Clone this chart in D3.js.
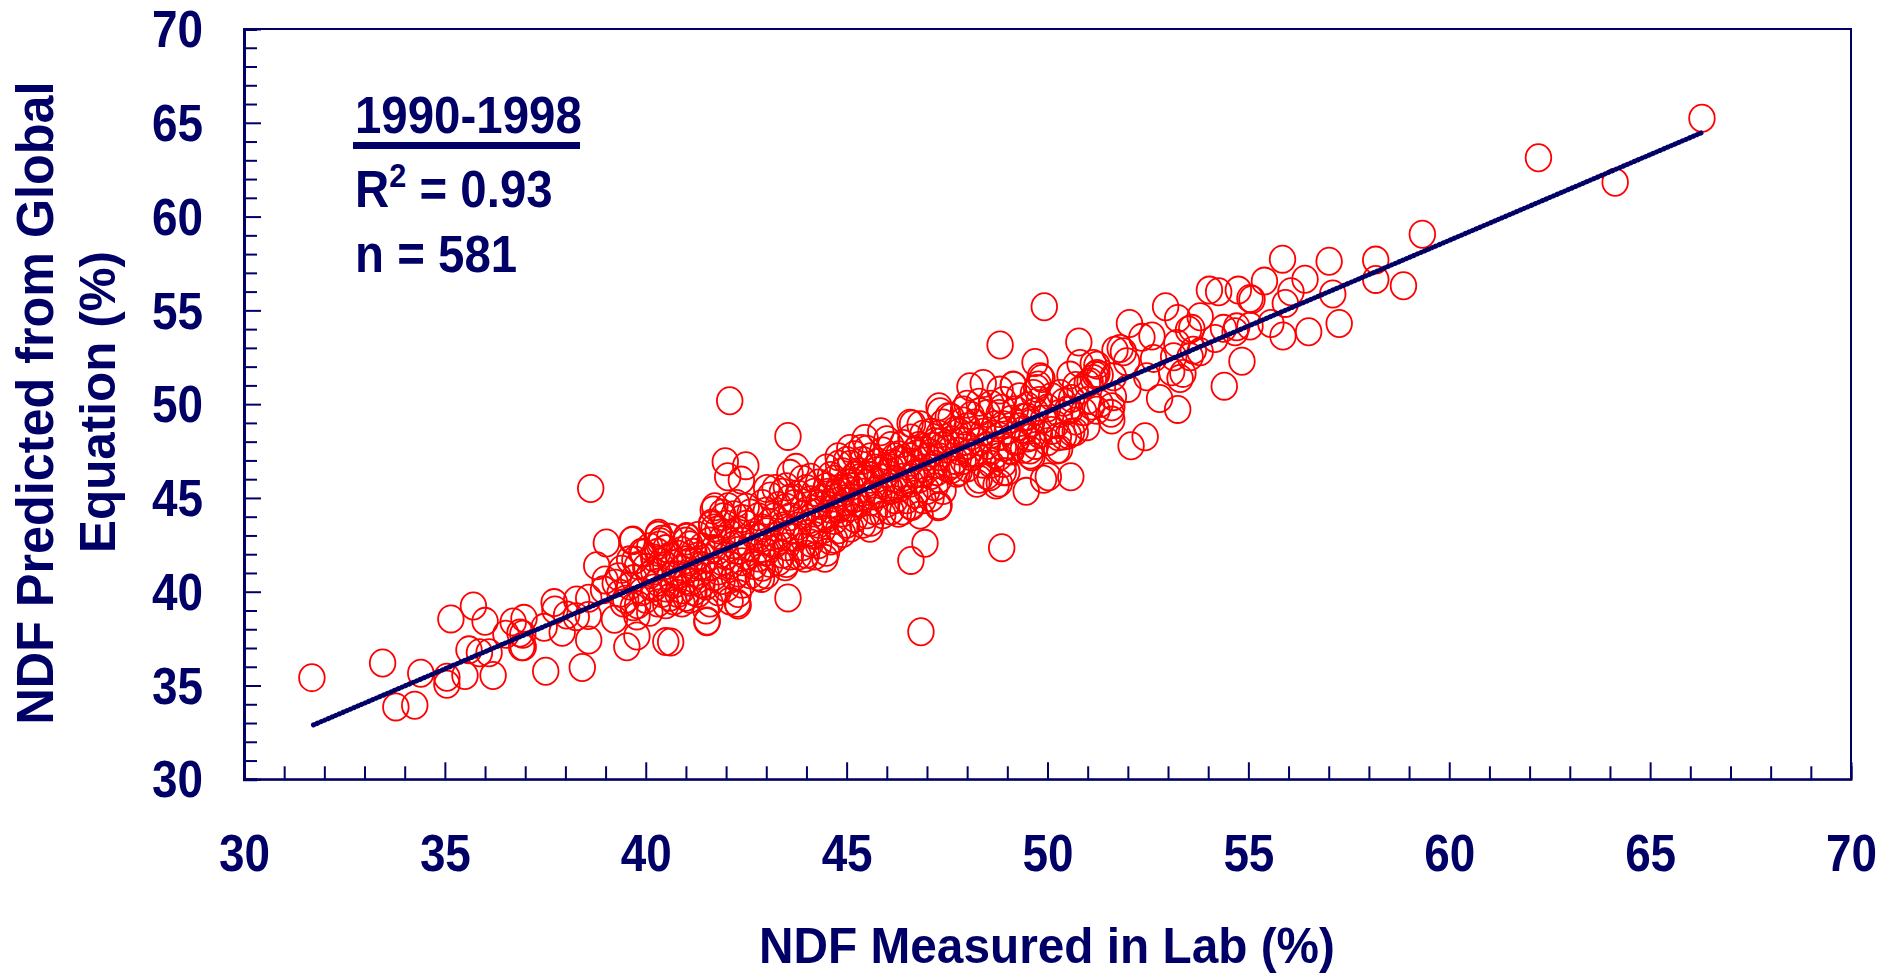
<!DOCTYPE html>
<html>
<head>
<meta charset="utf-8">
<style type="text/css">
html, body{
	padding: 0;
	margin: 0;
	background: white;
}
text {
	font-family: "Liberation Sans", Arial, sans-serif;
	font-weight: bold;
	fill: #000066;
}
</style>
</head>
<body>
<svg width=1895 height=973></svg>

<script src="https://cdn.jsdelivr.net/npm/d3@7"></script>
<script type="text/javascript">
// [measured, predicted]
var lowEnd = [[31.69,35.42],[33.45,36.2],[33.78,33.86],[34.25,33.95],[34.4,35.65],[35.05,35.07],[35.05,35.44],[35.15,38.55],[35.5,35.53],[35.71,39.24],[36.0,38.42],[36.2,35.53],[35.6,36.9],[35.86,36.75],[36.1,36.75],[36.52,37.73],[36.7,38.39],[36.97,38.58],[36.87,37.8],[36.94,37.73],[36.91,37.07],[36.95,37.07],[37.51,35.76],[37.47,38.1],[38.42,35.96],[37.92,37.84],[37.72,39.42],[37.74,39.03],[38.03,38.76],[38.28,39.56],[38.27,38.67],[38.58,39.65],[38.57,38.73],[38.58,37.43],[38.78,41.39],[39.02,42.6],[39.53,37.07],[39.78,37.64],[39.22,38.53],[39.78,38.71],[40.5,37.34],[40.62,37.32],[41.53,38.44],[41.5,39.03],[42.28,39.38],[39.32,40.8],[38.99,40.63],[39.24,40.45],[38.95,40.1],[39.36,39.92],[39.69,39.2],[39.44,39.4],[39.68,42.76],[40.32,43.12],[40.36,42.67],[39.94,42.05],[39.73,41.69],[41.02,42.94],[41.64,43.65],[41.68,44.36]];

var midOutliers = [[42.09,50.18],[43.54,48.28],[41.98,46.93],[42.49,46.72],[42.38,45.95],[42.04,46.13],[38.63,45.5],[48.82,53.15],[49.69,52.22],[43.54,39.67],[46.95,42.58],[46.6,41.67],[48.86,42.35],[46.85,37.87],[49.47,45.35],[50.58,46.13],[50.02,46.13],[49.9,46.0],[48.4,51.1],[48.07,50.93],[49.15,51.0],[47.3,49.86],[46.64,48.94],[46.83,48.9],[45.85,48.53],[45.46,48.17],[45.08,47.64],[44.79,47.2],[45.37,47.64],[43.74,46.63],[43.59,46.31],[43.01,45.5],[43.22,45.5],[41.72,44.53],[42.05,44.53],[41.64,43.56],[42.26,44.71],[41.93,44.0],[39.66,42.72],[40.31,43.02],[41.02,42.9],[40.34,42.49],[48.24,45.78],[48.72,45.69],[48.57,46.13],[47.28,44.53],[46.83,44.09],[46.29,44.18],[45.58,43.38],[44.46,41.78],[43.96,41.78],[43.47,41.33],[42.88,40.71],[42.3,39.29],[41.52,38.4],[46.58,48.98],[47.33,49.6],[47.53,49.33],[47.91,49.69],[48.32,49.6],[48.86,49.78],[49.49,49.33],[46.62,44.54],[47.74,46.31],[48.49,46.2],[48.99,46.4],[49.57,47.29]];

var highEnd = [[49.92,55.19],[50.78,53.31],[52.04,54.3],[52.94,55.19],[53.24,54.57],[53.8,54.66],[52.6,53.63],[52.35,53.56],[53.22,53.24],[53.51,53.95],[53.59,54.04],[54.03,56.08],[54.26,55.99],[54.75,56.08],[55.4,56.56],[55.85,57.73],[57.01,57.62],[58.17,57.68],[58.17,56.65],[58.86,56.31],[56.41,56.66],[56.06,55.99],[55.92,55.37],[55.09,55.58],[55.04,55.63],[55.56,54.3],[55.86,53.63],[56.5,53.86],[57.26,54.3],[57.1,55.87],[54.67,53.86],[54.71,54.12],[55.04,54.16],[54.38,54.04],[54.17,53.5],[53.8,52.79],[53.63,52.88],[54.84,52.29],[54.4,50.96],[53.3,51.37],[53.37,51.64],[53.09,51.73],[52.79,50.3],[53.24,49.72],[52.43,48.26],[52.08,47.78],[52.64,52.44],[53.14,52.53],[53.55,52.53],[52.47,51.46],[52.0,50.84],[51.64,51.46],[51.81,52.97],[51.68,52.88],[51.89,52.79],[51.97,52.26],[50.81,52.17],[51.23,52.08],[51.14,52.17],[51.19,51.55],[51.14,51.37],[51.06,51.2],[50.99,51.1],[51.23,51.64],[51.31,51.55],[50.56,51.55],[49.86,51.37],[49.77,51.02],[49.82,51.46],[49.73,50.84],[49.15,51.02],[48.82,50.75],[50.81,50.75],[50.31,50.57],[49.65,50.57],[50.56,49.68],[51.64,50.4],[51.6,49.86],[51.58,49.51],[51.6,49.15],[51.31,50.04],[51.23,49.68],[50.98,48.8],[50.69,48.53],[50.52,48.35],[50.27,48.26],[50.23,47.55],[49.57,47.55],[49.61,48.26],[49.61,47.2],[49.23,48.09],[49.4,48.62],[49.07,47.55],[48.9,46.84],[59.33,59.06],[62.22,63.14],[64.13,61.83],[66.29,65.24]];

// the middle of the band is solid red, so these are estimates by eye
var denseBand = [
[39.5,39.6],[39.6,40.3],[39.4,41.2],[39.6,41.7],
[39.8,39.3],[39.9,40.0],[39.7,40.7],[39.8,41.4],[39.9,42.1],
[40.1,38.9],[40.0,39.6],[40.2,40.2],[40.1,40.9],[40.0,41.3],[40.2,41.8],[40.1,42.4],
[40.3,39.4],[40.4,39.9],[40.3,40.5],[40.2,41.1],[40.4,41.6],[40.3,42.1],[40.4,42.8],
[40.5,39.3],[40.6,39.7],[40.5,40.2],[40.6,40.8],[40.5,41.4],[40.6,41.9],[40.5,42.3],[40.6,42.9],
[40.7,39.5],[40.8,39.9],[40.7,40.4],[40.8,40.9],[40.7,41.5],[40.8,42.0],
[40.9,39.4],[41.0,39.7],[40.9,40.1],[41.0,40.6],[40.9,41.2],[41.0,41.7],[40.9,42.2],[41.0,42.7],
[41.1,39.6],[41.2,40.0],[41.1,40.5],[41.2,41.0],[41.1,41.6],[41.2,42.1],[41.1,42.5],
[41.3,39.9],[41.4,40.4],[41.3,40.9],[41.4,41.4],[41.3,41.9],[41.4,42.4],[41.3,43.0],
[41.6,39.4],[41.5,40.3],[41.7,40.8],[41.6,41.3],[41.5,41.8],[41.7,42.3],[41.6,42.7],[41.7,43.4],
[41.8,40.0],[41.9,40.6],[41.8,41.1],[41.9,41.6],[41.8,42.2],[41.9,42.8],[41.8,43.3],[41.9,44.2],
[42.1,39.5],[42.0,40.2],[42.2,40.8],[42.1,41.4],[42.0,41.9],[42.2,42.5],[42.1,43.1],[42.0,43.6],[42.2,44.1],
[42.3,39.9],[42.4,40.4],[42.3,41.0],[42.4,41.6],[42.3,42.2],[42.4,42.7],[42.3,43.3],[42.4,43.9],[42.5,44.5],
[42.6,40.9],[42.7,41.4],[42.5,41.9],[42.6,42.4],[42.7,43.0],[42.5,43.6],[42.6,44.2],
[42.8,40.8],[42.9,41.3],[42.8,41.8],[42.9,42.3],[42.8,42.9],[42.9,43.4],[42.8,44.0],[42.9,44.7],
[43.0,40.9],[43.1,41.5],[43.0,42.1],[43.1,42.6],[43.0,43.2],[43.1,43.7],[43.0,44.3],[43.1,45.1],
[43.3,41.6],[43.4,42.0],[43.2,42.5],[43.3,43.0],[43.4,43.5],[43.2,44.0],[43.3,44.6],[43.4,45.3],
[43.5,41.5],[43.6,41.9],[43.5,42.4],[43.6,42.9],[43.5,43.4],[43.6,44.0],[43.5,44.5],[43.6,45.0],[43.5,45.6],
[43.8,41.9],[43.9,42.4],[43.7,42.9],[43.8,43.5],[43.9,44.1],[43.7,44.7],[43.8,45.2],[43.9,46.0],
[44.0,42.0],[44.1,42.6],[44.0,43.1],[44.1,43.7],[44.0,44.3],[44.1,44.9],[44.0,45.5],[44.1,46.1],
[44.2,41.9],[44.3,42.5],[44.2,43.0],[44.3,43.6],[44.2,44.2],[44.3,44.7],[44.2,45.3],[44.3,45.8],
[44.5,42.1],[44.6,42.7],[44.4,43.3],[44.5,43.9],[44.6,44.4],[44.4,45.0],[44.5,45.6],[44.6,46.2],[44.5,46.6],
[44.7,42.8],[44.8,43.3],[44.7,43.8],[44.8,44.4],[44.7,45.0],[44.8,45.5],[44.7,46.0],[44.8,46.8],
[44.9,43.1],[45.0,43.6],[44.9,44.2],[45.0,44.8],[44.9,45.3],[45.0,45.8],[44.9,46.4],[45.0,47.0],
[45.1,43.4],[45.2,43.9],[45.1,44.5],[45.2,45.0],[45.1,45.6],[45.2,46.2],[45.1,46.8],[45.2,47.3],
[45.4,43.6],[45.5,44.1],[45.3,44.7],[45.4,45.3],[45.5,45.8],[45.3,46.4],[45.4,47.0],[45.5,47.6],
[45.6,43.7],[45.7,44.3],[45.6,44.8],[45.7,45.4],[45.6,46.0],[45.7,46.6],[45.6,47.2],
[45.9,44.1],[46.0,44.7],[45.8,45.2],[45.9,45.8],[46.0,46.3],[45.8,46.9],[45.9,47.5],[46.0,48.1],
[46.1,44.3],[46.2,44.9],[46.1,45.4],[46.2,46.0],[46.1,46.6],[46.2,47.2],[46.1,47.8],
[46.4,44.3],[46.5,44.9],[46.3,45.5],[46.4,46.1],[46.5,46.7],[46.3,47.3],[46.4,47.9],
[46.6,44.6],[46.7,45.2],[46.6,45.8],[46.7,46.3],[46.6,46.9],[46.7,47.5],[46.6,48.2],
[46.9,44.9],[47.0,45.4],[46.8,46.0],[46.9,46.6],[47.0,47.2],[46.8,47.8],[46.9,48.4],
[47.1,45.0],[47.2,45.6],[47.1,46.2],[47.2,46.8],[47.1,47.4],[47.2,48.0],[47.1,48.5],
[47.3,44.6],[47.4,45.4],[47.3,46.0],[47.5,46.6],[47.3,47.2],[47.4,47.8],[47.3,48.4],[47.4,49.0],
[47.6,46.5],[47.7,47.0],[47.5,47.6],[47.6,48.1],[47.7,48.6],[47.6,49.3],
[47.8,46.4],[47.9,47.0],[47.8,47.5],[47.9,48.0],[47.8,48.5],[47.9,49.1],
[48.0,46.6],[48.1,47.2],[48.0,47.8],[48.1,48.3],[48.0,48.8],[48.1,49.4],[48.0,50.0],
[48.3,46.0],[48.4,46.8],[48.2,47.4],[48.3,48.0],[48.4,48.5],[48.2,49.0],[48.3,50.1],
[48.6,46.8],[48.7,47.3],[48.5,47.8],[48.6,48.4],[48.7,48.9],[48.5,49.5],[48.6,50.0],
[48.8,45.8],[48.9,46.4],[48.8,47.2],[48.9,47.7],[48.8,48.3],[48.9,48.9],[48.8,49.5],[48.9,50.2],
[49.1,47.5],[49.2,48.0],[49.0,48.6],[49.1,49.2],[49.2,49.7],
[49.4,47.6],[49.5,48.2],[49.3,48.8],[49.4,49.3],[49.5,49.9],[49.3,50.4],
[49.7,47.8],[49.8,48.4],[49.6,49.0],[49.7,49.6],[49.8,50.2],
[50.0,48.0],[50.1,48.6],[49.9,49.2],[50.0,49.8],[50.1,50.4],
[50.3,47.6],[50.4,48.3],[50.2,48.9],[50.3,49.5],[50.4,50.1],
[50.6,48.5],[50.7,49.1],[50.5,49.7],[50.6,50.3],[50.7,51.0],
[44.35,44.6],[44.55,45.3],[44.75,45.25],[44.95,45.55],[45.15,45.85],[45.35,46.1],[45.55,46.2],[45.75,46.45],
[45.95,46.6],[46.15,46.85],[46.35,47.05],[46.55,47.2],[46.75,47.35],[46.95,47.55],[47.15,47.75],[47.35,48.0],
[44.45,44.0],[44.85,44.5],[45.25,44.75],[45.65,45.1],[46.05,45.6],[46.45,45.8],[46.85,46.3],[47.25,46.4],[47.65,46.8],[48.05,47.4],
[50.9,49.6],[51.0,50.2],[51.1,49.9]
];

var points = lowEnd.concat(midOutliers, denseBand, highEnd);
var fitLine = [[31.73,32.9],[66.28,64.47]];

var axisTicks = d3.range(30,71);
var navy = '#000066';

var svg = d3.select('svg');
var x = d3.scaleLinear().domain([30,70]).range([244,1851]);
var y = d3.scaleLinear().domain([30,70]).range([779.3,29]);

// frame
svg.append('rect')
	.attr('x',x(30))
	.attr('y',y(70))
	.attr('width',x(70)-x(30))
	.attr('height',y(30)-y(70))
	.attr('fill','none')
	.attr('stroke',navy)
	.attr('stroke-width',2);

function styleAxis(g){
	g.select('.domain').attr('stroke',navy).attr('stroke-width',3);
	g.selectAll('.tick line')
		.attr('stroke',navy)
		.attr('stroke-width',2);
	g.selectAll('.tick text')
		.style('font-size','52px')
		.attr('textLength',d=>d%5==0?51:null)
		.attr('lengthAdjust','spacingAndGlyphs');
}

var xAxis = svg.append('g')
	.attr('transform','translate(0,'+y(30)+')')
	.call(d3.axisBottom(x).tickValues(axisTicks).tickSizeOuter(0).tickSize(-13).tickPadding(52)
		.tickFormat(d=>d%5==0?d:''))
	.call(styleAxis);
xAxis.selectAll('.tick line').filter(d=>d%5==0).attr('y2',-17);
xAxis.selectAll('.tick text').attr('dy','0.7em').attr('y',55);
xAxis.select('.domain').attr('stroke-width',2);

var yAxis = svg.append('g')
	.attr('transform','translate('+x(30)+',0)')
	.call(d3.axisLeft(y).tickValues(axisTicks).tickSizeOuter(0).tickSize(-13).tickPadding(41)
		.tickFormat(d=>d%5==0?d:''))
	.call(styleAxis);
yAxis.selectAll('.tick line').filter(d=>d%5==0).attr('x2',17);
yAxis.selectAll('.tick text').attr('dy','0.34em');

// points
svg.append('g').selectAll('ellipse')
	.data(points)
	.enter()
	.append('ellipse')
	.attr('cx',d=>x(d[0]))
	.attr('cy',d=>y(d[1]))
	.attr('rx',12.8)
	.attr('ry',13.6)
	.attr('fill','none')
	.attr('stroke','#ff0000')
	.attr('stroke-width',1.8);

// the fit is a run of small markers in the original, hence the bumpy stroke
var line = d3.line().x(d=>x(d[0])).y(d=>y(d[1]));
svg.append('path')
	.attr('d',line(fitLine))
	.attr('fill','none')
	.attr('stroke',navy)
	.attr('stroke-width',5)
	.attr('stroke-dasharray','0.5 3.5')
	.attr('stroke-linecap','round');

// annotation
function note(px,py){
	return svg.append('text')
		.attr('transform','translate('+px+','+py+') scale(.93,1)')
		.style('font-size','51px');
}
note(355,133).text('1990-1998');
svg.append('rect')
	.attr('x',353).attr('y',142)
	.attr('width',227).attr('height',7)
	.attr('fill',navy);
var r2 = note(355,207);
r2.append('tspan').text('R');
r2.append('tspan').attr('dy',-20).style('font-size','33px').text('2');
r2.append('tspan').attr('dy',20).text(' = 0.93');
note(355,272).text('n = 581');

// axis titles
svg.append('text')
	.attr('x',(759+1335)/2).attr('y',963)
	.attr('text-anchor','middle')
	.attr('textLength',576)
	.attr('lengthAdjust','spacingAndGlyphs')
	.style('font-size','50px')
	.text('NDF Measured in Lab (%)');

svg.append('text')
	.attr('transform','translate(53,403) rotate(-90)')
	.attr('text-anchor','middle')
	.attr('textLength',643)
	.attr('lengthAdjust','spacingAndGlyphs')
	.style('font-size','51px')
	.text('NDF Predicted from Global');

svg.append('text')
	.attr('transform','translate(115,402) rotate(-90)')
	.attr('text-anchor','middle')
	.attr('textLength',302)
	.attr('lengthAdjust','spacingAndGlyphs')
	.style('font-size','50px')
	.text('Equation (%)');
</script>
</body>
</html>
